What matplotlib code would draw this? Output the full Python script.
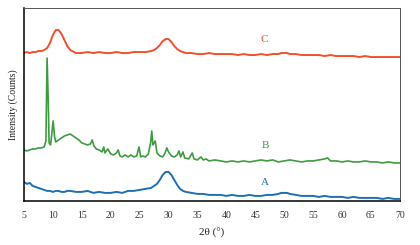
import matplotlib
matplotlib.use('Agg')
import matplotlib.pyplot as plt

plt.rcParams['font.family'] = ['Liberation Serif', 'DejaVu Serif']

# Сетка углов для кривых A и C
x_ac = [5, 5.5, 6, 6.5, 7, 7.5, 8, 8.5, 9, 9.5, 10, 10.5, 11, 11.5, 12, 12.5, 13, 14, 15, 16,
        17, 18, 19, 20, 21, 22, 23, 24, 25, 26, 27, 27.5, 28, 28.5, 29, 29.5, 30, 30.5, 31, 31.5,
        32, 32.5, 33, 34, 35, 36, 37, 38, 39, 40, 41, 42, 43, 44, 45, 46, 47, 48, 49, 49.5,
        50, 50.5, 51, 52, 53, 54, 55, 56, 57, 58, 59, 60, 61, 62, 63, 64, 65, 66, 67, 68,
        69, 70]

y_a = [19, 17, 18, 15, 14, 13, 12, 11, 10, 10, 9, 10, 10, 9, 9, 10, 10, 9, 9, 10,
       8, 9, 8, 8, 9, 8, 10, 10, 11, 12, 13, 15, 17, 21, 26, 29, 29, 26, 21, 16,
       12, 10, 9, 8, 7, 7, 6, 6, 6, 5, 6, 5, 5, 6, 5, 5, 6, 6, 7, 8,
       8, 8, 7, 6, 5, 5, 5, 4, 5, 4, 4, 4, 3, 4, 3, 3, 3, 3, 2, 3,
       2, 2]

y_c = [148, 149, 148, 149, 149, 150, 150, 151, 153, 158, 166, 171, 171, 167, 161, 155, 151, 148, 148, 149,
       148, 149, 148, 148, 149, 148, 148, 149, 149, 149, 150, 151, 153, 156, 160, 162, 162, 159, 155, 152,
       150, 149, 148, 148, 147, 147, 148, 147, 147, 147, 147, 146, 147, 146, 146, 147, 146, 147, 147, 148,
       148, 148, 147, 147, 146, 146, 146, 146, 145, 146, 145, 145, 145, 145, 144, 145, 144, 144, 144, 144,
       144, 144]

# Кривая B (много узких пиков)
x_b = [5, 5.5, 6, 6.5, 7, 7.5, 8, 8.5, 8.8, 9.0, 9.2, 9.35, 9.6, 9.8, 10.05, 10.3, 10.5, 11, 11.5, 12,
       12.5, 13, 13.5, 14, 14.5, 15, 15.5, 16, 16.5, 16.8, 17.1, 17.5, 18, 18.5, 18.8, 19, 19.5, 20, 20.5, 21,
       21.3, 21.6, 22, 22.5, 23, 23.5, 24, 24.5, 24.9, 25.2, 25.5, 26, 26.5, 26.9, 27.1, 27.3, 27.7, 28, 28.5, 29,
       29.4, 29.7, 30, 30.5, 31, 31.5, 31.8, 32.1, 32.5, 32.8, 33.5, 34.1, 34.4, 35, 35.6, 36, 36.5, 37, 38, 39,
       40, 41, 42, 43, 44, 45, 46, 47, 48, 49, 50, 51, 52, 53, 54, 55, 56, 57, 57.5, 58,
       59, 60, 61, 62, 63, 64, 65, 66, 67, 68, 69, 70]
y_b = [51, 50, 51, 52, 52, 53, 53, 54, 60, 143, 100, 58, 56, 66, 80, 64, 59, 61, 63, 65,
       66, 67, 65, 63, 61, 58, 57, 56, 57, 61, 55, 52, 51, 49, 54, 48, 52, 47, 46, 48,
       51, 45, 44, 46, 44, 46, 44, 45, 54, 44, 45, 44, 47, 58, 70, 56, 60, 48, 45, 44,
       48, 53, 49, 45, 44, 46, 50, 44, 49, 43, 42, 48, 42, 41, 44, 41, 42, 40, 41, 40,
       39, 40, 39, 40, 39, 40, 41, 40, 41, 39, 40, 41, 40, 39, 40, 40, 41, 42, 43, 40,
       40, 39, 40, 39, 39, 40, 39, 39, 38, 39, 38, 38]

labels = ['A', 'B', 'C']
label_x = [46.6, 46.8, 46.6]
label_y = [14, 51, 157]
colors = ['#1f6fb2', '#3e9b3e', '#f2502c']
xticks = [5, 10, 15, 20, 25, 30, 35, 40, 45, 50, 55, 60, 65, 70]

fig = plt.figure(figsize=(4.2, 2.45), dpi=100)
ax = fig.add_axes([0.057, 0.18, 0.895, 0.787])

ax.plot(x_ac, y_a, color=colors[0], lw=1.4)
ax.plot(x_b, y_b, color=colors[1], lw=1.2)
ax.plot(x_ac, y_c, color=colors[2], lw=1.4)

for lab, lx, ly, c in zip(labels, label_x, label_y, colors):
    ax.text(lx, ly, lab, color=c, fontsize=8, ha='center', va='bottom')

ax.set_xlim(5, 70)
ax.set_ylim(0, 193)
ax.set_xticks(xticks)
ax.set_yticks([])
ax.tick_params(axis='x', length=0, pad=7, labelsize=7, colors='#333333')
ax.set_xlabel('2θ (°)', fontsize=8, labelpad=6, color='#222222')
ax.set_ylabel('Intensity (Counts)', fontsize=7, labelpad=4, color='#222222')

ax.spines['left'].set_linewidth(1.1)
ax.spines['bottom'].set_linewidth(1.1)
ax.spines['top'].set_color('#555555')
ax.spines['right'].set_color('#555555')
ax.spines['top'].set_linewidth(0.7)
ax.spines['right'].set_linewidth(0.7)

fig.savefig('out.png', dpi=100)
